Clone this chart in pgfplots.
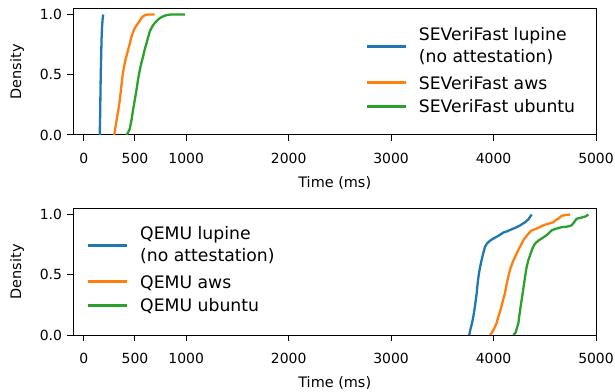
\documentclass[border=0pt]{standalone}
\usepackage{fontspec}
\setmainfont{DejaVu Sans}
\usepackage{pgfplots}
\pgfplotsset{compat=1.18}
\definecolor{c0}{HTML}{1F77B4}
\definecolor{c1}{HTML}{FF7F0E}
\definecolor{c2}{HTML}{2CA02C}
\pgfplotsset{myax/.style={
 scale only axis, width=522.5bp, height=126.5bp,
 xmin=-100, xmax=5000, ymin=0, ymax=1.05,
 xtick={0,500,1000,2000,3000,4000,5000}, ytick={0,0.5,1},
 /pgf/number format/assume math mode=true,
 scaled ticks=false,
 yticklabel style={/pgf/number format/fixed, /pgf/number format/fixed zerofill, /pgf/number format/precision=1, xshift=-2bp},
 xticklabel style={/pgf/number format/1000 sep={}, yshift=-8.5bp},
 tick pos=left, tick align=outside, major tick length=6bp,
 tick style={black, line width=1bp},
 axis line style={line width=1bp},
 ticklabel style={font=\fontsize{14}{16}\selectfont},
 xlabel={Time (ms)}, ylabel={Density},
 every axis x label/.style={at={(axis description cs:0.5,-0.3794)}, anchor=center, font=\fontsize{14.5}{17}\selectfont},
 every axis y label/.style={at={(axis description cs:-0.1081,0.5)}, anchor=center, rotate=90, font=\fontsize{14.5}{17}\selectfont},
 legend style={draw=none, fill=none, inner sep=0pt, row sep=0pt, font=\fontsize{17.3}{20}\selectfont,
   cells={anchor=base west, inner ysep=0pt, inner xsep=0pt, text height=17.85bp, text depth=6.25bp},
   /tikz/every odd column/.append style={column sep=11bp}},
 legend image code/.code={\draw[#1, line width=3bp, overlay] (0bp,6.3bp) -- (39bp,6.3bp); \path[draw=none,fill=none] (0bp,6.3bp) -- (39bp,6.3bp);},
 every axis plot/.append style={line width=2.3bp, line join=round},
}}
\pgfplotsset{twoline/.style={legend image code/.code={\draw[##1, line width=3bp, overlay] (0bp,-6bp) -- (39bp,-6bp); \path[draw=none,fill=none] (0bp,6.3bp) -- (39bp,6.3bp);}}}
\begin{document}
\begin{tikzpicture}
\begin{axis}[myax, at={(73.5bp,257bp)}, anchor=south west,
  legend style={at={(rel axis cs:0.5611,0.9079)}, anchor=north west}]
\addplot[c0, twoline] coordinates {(156,0) (158,0.08) (161,0.2) (163,0.35) (166,0.5) (170,0.65) (174,0.8) (179,0.9) (184,0.96) (190,1.0)};
\addlegendentry[text depth=-1.85bp]{SEVeriFast lupine}
\addlegendimage{empty legend}
\addlegendentry[text depth=5.15bp]{(no attestation)}
\addplot[c1] coordinates {(296,0) (305,0.04) (316,0.1) (326,0.15) (340,0.22) (352,0.29) (365,0.39) (378,0.485) (390,0.55) (400,0.596) (415,0.65) (433,0.707) (450,0.76) (466,0.817) (482,0.855) (498,0.887) (515,0.91) (531,0.928) (548,0.95) (563,0.97) (580,0.985) (596,0.995) (630,1.0) (693,1.0)};
\addlegendentry{SEVeriFast aws}
\addplot[c2] coordinates {(417,0) (432,0.02) (449,0.05) (465,0.12) (482,0.21) (498,0.29) (514,0.37) (530,0.46) (547,0.54) (563,0.6) (579,0.65) (595,0.71) (612,0.76) (628,0.81) (645,0.86) (668,0.9) (693,0.93) (718,0.95) (742,0.97) (775,0.985) (807,0.995) (850,1.0) (986,1.0)};
\addlegendentry{SEVeriFast ubuntu}
\end{axis}
\begin{axis}[myax, at={(73.5bp,57bp)}, anchor=south west,
  legend style={at={(rel axis cs:0.0278,0.9158)}, anchor=north west}]
\addplot[c0, twoline] coordinates {(3763,0) (3775,0.05) (3790,0.1) (3802,0.15) (3815,0.22) (3825,0.28) (3835,0.345) (3845,0.43) (3857,0.51) (3870,0.57) (3883,0.62) (3900,0.68) (3916,0.73) (3932,0.755) (3948,0.77) (3970,0.785) (3997,0.8) (4030,0.815) (4060,0.83) (4095,0.85) (4130,0.86) (4170,0.875) (4225,0.895) (4260,0.91) (4307,0.936) (4340,0.96) (4372,1.0)};
\addlegendentry[text depth=-1.85bp]{QEMU lupine}
\addlegendimage{empty legend}
\addlegendentry[text depth=5.15bp]{(no attestation)}
\addplot[c1] coordinates {(3965,0) (3985,0.02) (4010,0.06) (4030,0.1) (4046,0.15) (4065,0.2) (4090,0.28) (4111,0.345) (4125,0.41) (4140,0.47) (4160,0.54) (4180,0.59) (4200,0.63) (4225,0.675) (4250,0.72) (4270,0.75) (4290,0.785) (4320,0.82) (4350,0.85) (4372,0.868) (4410,0.88) (4450,0.895) (4486,0.91) (4520,0.92) (4560,0.93) (4583,0.936) (4610,0.955) (4640,0.97) (4665,0.99) (4700,0.995) (4746,1.0)};
\addlegendentry{QEMU aws}
\addplot[c2] coordinates {(4193,0) (4215,0.02) (4242,0.097) (4255,0.18) (4265,0.24) (4274,0.29) (4290,0.38) (4307,0.48) (4322,0.56) (4339,0.62) (4360,0.67) (4380,0.72) (4404,0.758) (4440,0.785) (4486,0.81) (4520,0.83) (4567,0.868) (4600,0.88) (4665,0.895) (4720,0.9) (4762,0.91) (4790,0.94) (4811,0.965) (4860,0.975) (4900,0.985) (4925,1.0)};
\addlegendentry{QEMU ubuntu}
\end{axis}
\pgfresetboundingbox
\path (0,0) rectangle (615bp,392bp);
\end{tikzpicture}
\end{document}
